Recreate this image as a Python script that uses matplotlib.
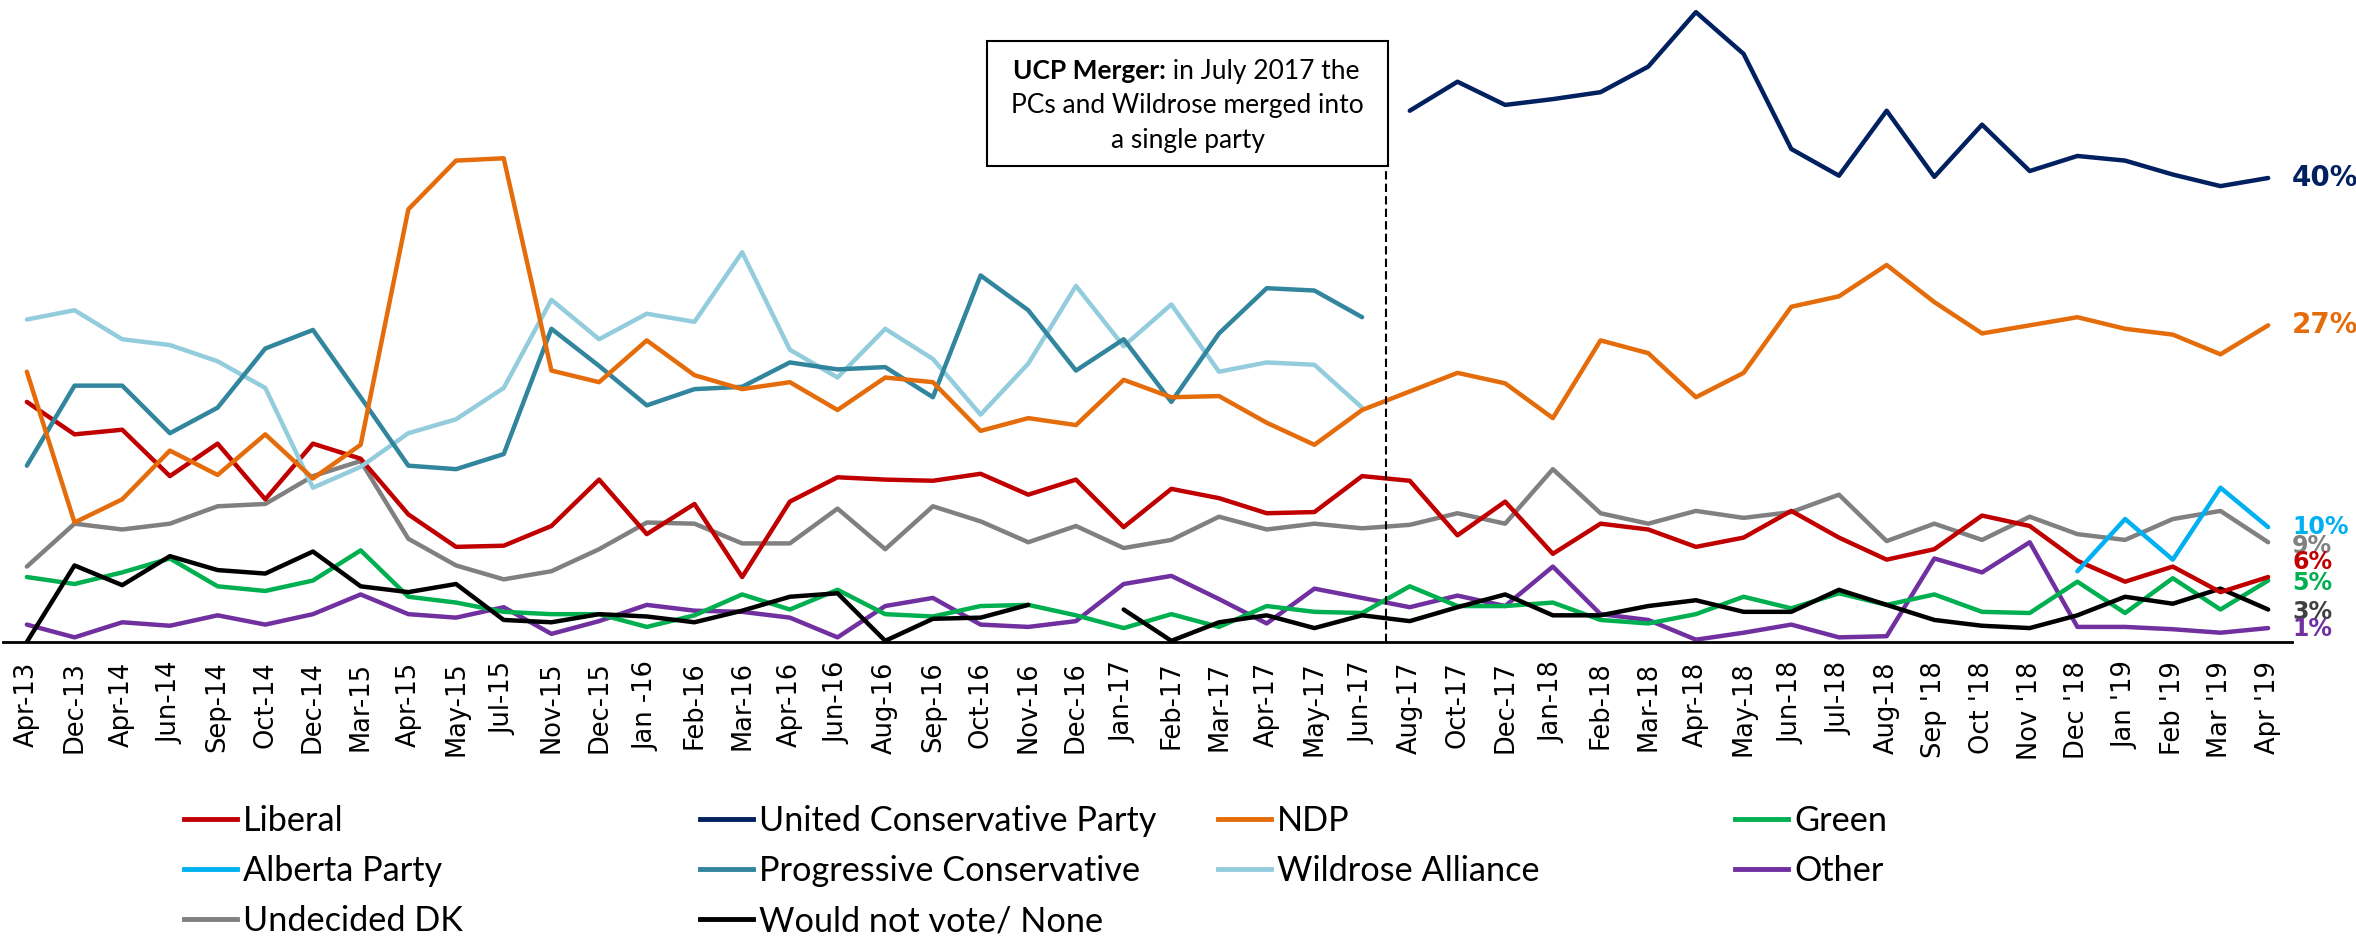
import numpy as np
import matplotlib.pyplot as plt
import matplotlib.transforms as mtransforms
from matplotlib.lines import Line2D
from matplotlib.patches import Rectangle

nan = np.nan

# survey waves
months = ["Apr-13", "Dec-13", "Apr-14", "Jun-14", "Sep-14", "Oct-14", "Dec-14", "Mar-15",
          "Apr-15", "May-15", "Jul-15", "Nov-15", "Dec-15", "Jan -16", "Feb-16", "Mar-16",
          "Apr-16", "Jun-16", "Aug-16", "Sep-16", "Oct-16", "Nov-16", "Dec-16", "Jan-17",
          "Feb-17", "Mar-17", "Apr-17", "May-17", "Jun-17", "Aug-17", "Oct-17", "Dec-17",
          "Jan-18", "Feb-18", "Mar-18", "Apr-18", "May-18", "Jun-18", "Jul-18", "Aug-18",
          "Sep '18", "Oct '18", "Nov '18", "Dec '18", "Jan '19", "Feb '19", "Mar '19", "Apr '19"]

# vote intention (%)
liberal = [20.7, 17.9, 18.3, 14.3, 17.1, 12.3, 17.1, 15.8, 11.0, 8.2, 8.3, 10.0, 14.0, 9.3, 11.9, 5.6,
           12.1, 14.2, 14.0, 13.9, 14.5, 12.7, 14.0, 9.9, 13.2, 12.4, 11.1, 11.2, 14.3, 13.9, 9.2, 12.1,
           7.6, 10.2, 9.7, 8.2, 9.0, 11.3, 9.0, 7.1, 8.0, 10.9, 10.0, 7.0, 5.2, 6.5, 4.3, 5.6]
ucp = [nan] * 29 + [45.8, 48.3, 46.3, 46.8, 47.4, 49.6, 54.3, 50.7, 42.5, 40.2, 45.8, 40.1, 44.6, 40.6,
                    41.9, 41.5, 40.3, 39.3, 40.0]
ndp = [23.3, 10.3, 12.3, 16.5, 14.4, 17.9, 14.1, 17.0, 37.3, 41.5, 41.7, 23.4, 22.4, 26.0, 23.0, 21.8,
       22.4, 20.0, 22.8, 22.4, 18.2, 19.3, 18.7, 22.6, 21.1, 21.2, 18.9, 17.0, 20.0, 21.6, 23.2, 22.3,
       19.3, 26.0, 24.9, 21.1, 23.2, 28.9, 29.8, 32.5, 29.3, 26.6, 27.3, 28.0, 27.0, 26.5, 24.8, 27.3]
green = [5.6, 5.0, 6.0, 7.2, 4.8, 4.4, 5.3, 7.9, 3.9, 3.4, 2.6, 2.4, 2.4, 1.3, 2.3, 4.1,
         2.8, 4.5, 2.4, 2.2, 3.1, 3.2, 2.3, 1.2, 2.4, 1.3, 3.1, 2.6, 2.5, 4.8, 3.1, 3.1,
         3.4, 1.9, 1.6, 2.4, 3.9, 2.9, 4.2, 3.2, 4.1, 2.6, 2.5, 5.2, 2.5, 5.5, 2.8, 5.3]
alberta = [nan] * 43 + [6.1, 10.6, 7.1, 13.3, 9.9]
pc = [15.2, 22.1, 22.1, 18.0, 20.2, 25.3, 26.9, 21.1, 15.2, 14.9, 16.2, 27.0, 23.8, 20.4, 21.8, 22.0,
      24.1, 23.5, 23.7, 21.1, 31.6, 28.6, 23.4, 26.1, 20.7, 26.6, 30.5, 30.3, 28.0] + [nan] * 19
wildrose = [27.8, 28.6, 26.1, 25.6, 24.2, 21.9, 13.3, 15.1, 18.0, 19.2, 21.9, 29.5, 26.1, 28.3, 27.6, 33.6,
            25.2, 22.8, 27.0, 24.4, 19.6, 24.0, 30.7, 25.5, 29.1, 23.3, 24.1, 23.9, 20.2] + [nan] * 19
other = [1.5, 0.4, 1.7, 1.4, 2.3, 1.5, 2.4, 4.1, 2.4, 2.1, 3.0, 0.7, 1.8, 3.2, 2.7, 2.6,
         2.1, 0.4, 3.1, 3.8, 1.5, 1.3, 1.8, 5.0, 5.7, 3.7, 1.6, 4.6, 3.8, 3.0, 4.0, 3.1,
         6.5, 2.4, 1.9, 0.2, 0.8, 1.5, 0.4, 0.5, 7.2, 6.0, 8.6, 1.3, 1.3, 1.1, 0.8, 1.2]
undecided = [6.5, 10.2, 9.7, 10.2, 11.7, 11.9, 14.3, 15.6, 8.9, 6.6, 5.4, 6.1, 8.0, 10.3, 10.2, 8.5,
             8.5, 11.5, 8.0, 11.7, 10.4, 8.6, 10.0, 8.1, 8.8, 10.8, 9.7, 10.2, 9.8, 10.1, 11.1, 10.2,
             14.9, 11.1, 10.2, 11.3, 10.7, 11.2, 12.7, 8.7, 10.2, 8.8, 10.8, 9.3, 8.8, 10.6, 11.3, 8.6]
none = [0.0, 6.6, 4.9, 7.4, 6.2, 5.9, 7.8, 4.8, 4.3, 5.0, 1.9, 1.7, 2.4, 2.2, 1.7, 2.7,
        3.9, 4.2, 0.1, 2.0, 2.1, 3.2, nan, 2.8, 0.1, 1.7, 2.3, 1.2, 2.3, 1.8, 3.0, 4.1,
        2.3, 2.3, 3.1, 3.6, 2.6, 2.6, 4.5, 3.2, 1.9, 1.4, 1.2, 2.3, 3.9, 3.3, 4.6, 2.8]

colors = {
    "Liberal": "#C00000",
    "United Conservative Party": "#002060",
    "NDP": "#E46C0A",
    "Green": "#00B050",
    "Alberta Party": "#00B0F0",
    "Progressive Conservative": "#31859C",
    "Wildrose Alliance": "#93CDDD",
    "Other": "#7030A0",
    "Undecided DK": "#808080",
    "Would not vote/ None": "#000000",
}
data = {
    "Liberal": liberal,
    "United Conservative Party": ucp,
    "NDP": ndp,
    "Green": green,
    "Alberta Party": alberta,
    "Progressive Conservative": pc,
    "Wildrose Alliance": wildrose,
    "Other": other,
    "Undecided DK": undecided,
    "Would not vote/ None": none,
}

W, H = 2356, 936
fig = plt.figure(figsize=(W / 100, H / 100), dpi=100)
ax = fig.add_axes([3 / W, 1 - 642 / H, 2289 / W, 638 / H])

x = np.arange(len(months))
draw_order = ["Other", "Green", "Would not vote/ None", "Undecided DK", "Liberal",
              "Wildrose Alliance", "Progressive Conservative", "NDP", "Alberta Party",
              "United Conservative Party"]
for name in draw_order:
    ax.plot(x, data[name], color=colors[name], lw=3.2,
            solid_capstyle='round', solid_joinstyle='round')

ax.set_xlim(-0.5, len(months) - 0.5)
ax.set_ylim(0, 55)
ax.set_xticks(x)
ax.set_xticklabels(months, rotation=90, fontsize=18.5, family='DejaVu Sans')
ax.tick_params(axis='x', length=0, pad=14)
ax.set_yticks([])
for s in ['left', 'right', 'top']:
    ax.spines[s].set_visible(False)
ax.spines['bottom'].set_linewidth(2)

# merger marker and note
ax.plot([28.5, 28.5], [0, 41.0], color='black', lw=1.5, ls=(0, (4, 2)))
ax.add_patch(Rectangle((20.14, 41.0), 8.4, 10.8, fill=False, ec='black', lw=1.5))
box_font = dict(family='Lato', fontsize=19, va='baseline')
ax.text(23.88, 48.56, "UCP Merger:", ha='right', fontweight='bold', **box_font)
ax.text(23.88, 48.56, " in July 2017 the", ha='left', **box_font)
ax.text(24.34, 45.6, "PCs and Wildrose merged into", ha='center', **box_font)
ax.text(24.34, 42.6, "a single party", ha='center', **box_font)

# end labels
trans = mtransforms.blended_transform_factory(ax.transAxes, ax.transData)
end_labels = [
    ("United Conservative Party", "#002060", 20, 0),
    ("NDP", "#E46C0A", 20, 0),
    ("Undecided DK", "#808080", 17, -0.3),
    ("Alberta Party", "#00B0F0", 17, 0),
    ("Liberal", "#C00000", 17, 1.3),
    ("Green", "#00B050", 17, -0.2),
    ("Would not vote/ None", "#404040", 17, -0.2),
    ("Other", "#7030A0", 17, -0.1),
]
for name, col, fs, nudge in end_labels:
    v = data[name][-1]
    ax.annotate(f"{round(v)}%", xy=(1.0, v + nudge), xycoords=trans,
                xytext=(0, 0), textcoords='offset points', ha='left', va='center',
                fontsize=fs, fontweight='bold', color=col, family='DejaVu Sans',
                annotation_clip=False)

# legend in four columns
legend_cols = [["Liberal", "Alberta Party", "Undecided DK"],
               ["United Conservative Party", "Progressive Conservative", "Would not vote/ None"],
               ["NDP", "Wildrose Alliance"],
               ["Green", "Other"]]
col_x = [184, 700, 1218, 1735]
for names, cx in zip(legend_cols, col_x):
    handles = [Line2D([], [], color=colors[n], lw=3.5) for n in names]
    fig.legend(handles, names, loc='upper left', bbox_to_anchor=(cx / W, 1 - 805 / H),
               frameon=False, borderpad=0, borderaxespad=0, handlelength=1.55,
               handletextpad=0.18, labelspacing=0.53, prop={'family': 'Lato', 'size': 24.7})

fig.savefig('out.png', dpi=100)
